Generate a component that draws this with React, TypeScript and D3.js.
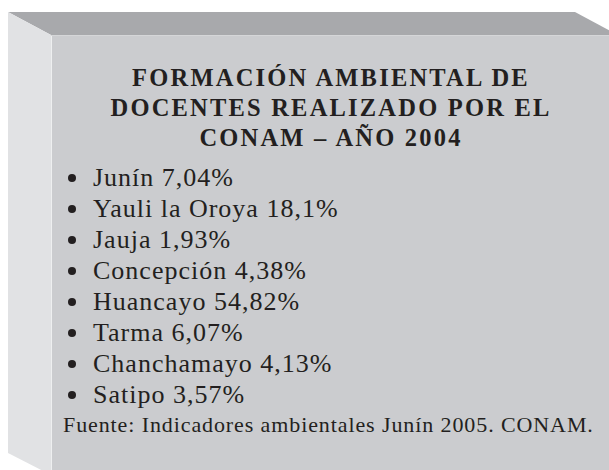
import * as d3 from 'd3';

const titleLines = ['FORMACIÓN AMBIENTAL DE', 'DOCENTES REALIZADO POR EL', 'CONAM – AÑO 2004'];
const provinces = ['Junín', 'Yauli la Oroya', 'Jauja', 'Concepción', 'Huancayo', 'Tarma', 'Chanchamayo', 'Satipo'];
const shares = [7.04, 18.1, 1.93, 4.38, 54.82, 6.07, 4.13, 3.57];
const source = 'Fuente: Indicadores ambientales Junín 2005. CONAM.';

const width = 609;
const height = 470;
const serif = '"Liberation Serif", "Times New Roman", serif';

const fmt = (v: number) => `${v}`.replace('.', ',') + '%';

const App = () => {
  const rows = provinces.map((p, i) => ({ name: p, value: shares[i] }));

  // list rows are spread evenly with a point scale
  const y = d3.scalePoint<string>().domain(provinces).range([186, 403]);

  // box geometry: left + top bevel faces, front face
  const L = 8, T = 12, fx = 51, fy = 35;
  const top = [[L, T], [575, T], [575 + (fx - L), fy], [fx, fy]];
  const left = [[L, T], [fx, fy], [fx, height + 5], [L, 453]];
  const poly = (pts: number[][]) => d3.line()(pts as [number, number][]) + 'Z';

  return (
    <svg width={width} height={height} style={{ position: 'absolute', left: 0, top: 0 }}>
      <rect width={width} height={height} fill="#ffffff" />
      <rect x={fx} y={fy} width={width - fx} height={height - fy} fill="#cbcccf" />
      <path d={poly(top)} fill="#a8a9ac" />
      <path d={poly(left)} fill="#e1e2e4" />
      <line x1={fx + 0.5} x2={fx + 0.5} y1={fy} y2={height} stroke="#eeeff0" />
      <line x1={fx} x2={width} y1={fy + 0.5} y2={fy + 0.5} stroke="#d5d6d8" />

      {titleLines.map((t, i) => (
        <text
          key={t}
          x={331}
          y={86 + i * 30}
          textAnchor="middle"
          fontFamily={serif}
          fontWeight="bold"
          fontSize={24.5}
          letterSpacing={2.2}
          fill="#231f20"
        >
          {t}
        </text>
      ))}

      {rows.map((d) => (
        <g key={d.name} transform={`translate(0, ${y(d.name)})`}>
          <circle cx={72} cy={-8} r={4} fill="#231f20" />
          <text x={93} y={0} fontFamily={serif} fontSize={26} letterSpacing={1} fill="#231f20">
            {d.name} {fmt(d.value)}
          </text>
        </g>
      ))}

      <text x={63} y={432} fontFamily={serif} fontSize={22} letterSpacing={0.9} fill="#231f20">
        {source}
      </text>
    </svg>
  );
};

export default App;
